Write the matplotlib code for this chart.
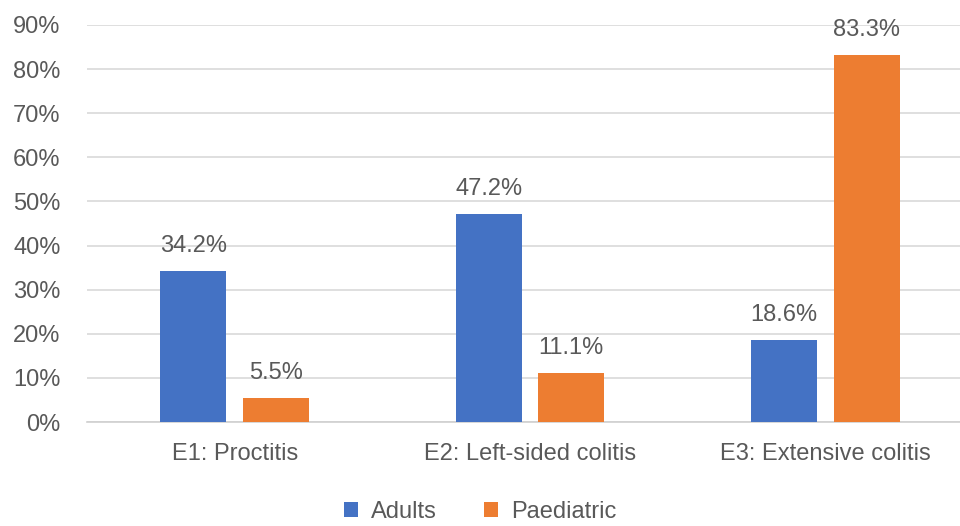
import matplotlib.pyplot as plt
import numpy as np

plt.rcParams['font.family'] = ['Liberation Sans', 'DejaVu Sans']

categories = ['E1: Proctitis', 'E2: Left-sided colitis', 'E3: Extensive colitis']
adults = [34.2, 47.2, 18.6]
paediatric = [5.5, 11.1, 83.3]
yticks = [0, 10, 20, 30, 40, 50, 60, 70, 80, 90]

blue = '#4472C4'
orange = '#ED7D31'
text_col = '#595959'

fig = plt.figure(figsize=(9.6, 5.26), dpi=100)
# plot area runs past the right edge, as in the original crop
ax = fig.add_axes([0.0906, 0.1977, 0.923, 0.7548])

x = np.arange(len(categories))
w = 0.224
off = 0.14
b1 = ax.bar(x - off, adults, w, color=blue, label='Adults', zorder=3)
b2 = ax.bar(x + off, paediatric, w, color=orange, label='Paediatric', zorder=3)

for bars, vals in [(b1, adults), (b2, paediatric)]:
    for b, v in zip(bars, vals):
        ax.annotate(f'{v:.1f}%', (b.get_x() + b.get_width() / 2, v),
                    xytext=(0, 13.5), textcoords='offset points',
                    ha='center', va='baseline', fontsize=17, color=text_col)

ax.set_xlim(-0.5, 2.5)
ax.set_ylim(0, 90)
ax.set_yticks(yticks)
ax.set_yticklabels([f'{t}%' for t in yticks])
ax.set_xticks(x)
ax.set_xticklabels(categories)
ax.tick_params(axis='both', length=0, labelsize=17, labelcolor=text_col)
ax.tick_params(axis='y', pad=19)
ax.tick_params(axis='x', pad=15)
ax.grid(axis='y', color='#d9d9d9', linewidth=1.2, zorder=0)
for s in ['top', 'right', 'left']:
    ax.spines[s].set_visible(False)
ax.spines['bottom'].set_color('#d0d0d0')
ax.spines['bottom'].set_linewidth(1.2)

leg = fig.legend(loc='lower center', bbox_to_anchor=(0.5, -0.035), ncol=2, frameon=False,
                 fontsize=17, handlelength=0.6, handleheight=0.6, columnspacing=2.0,
                 handletextpad=0.55)
for t in leg.get_texts():
    t.set_color(text_col)

fig.savefig('out.png', dpi=100)
